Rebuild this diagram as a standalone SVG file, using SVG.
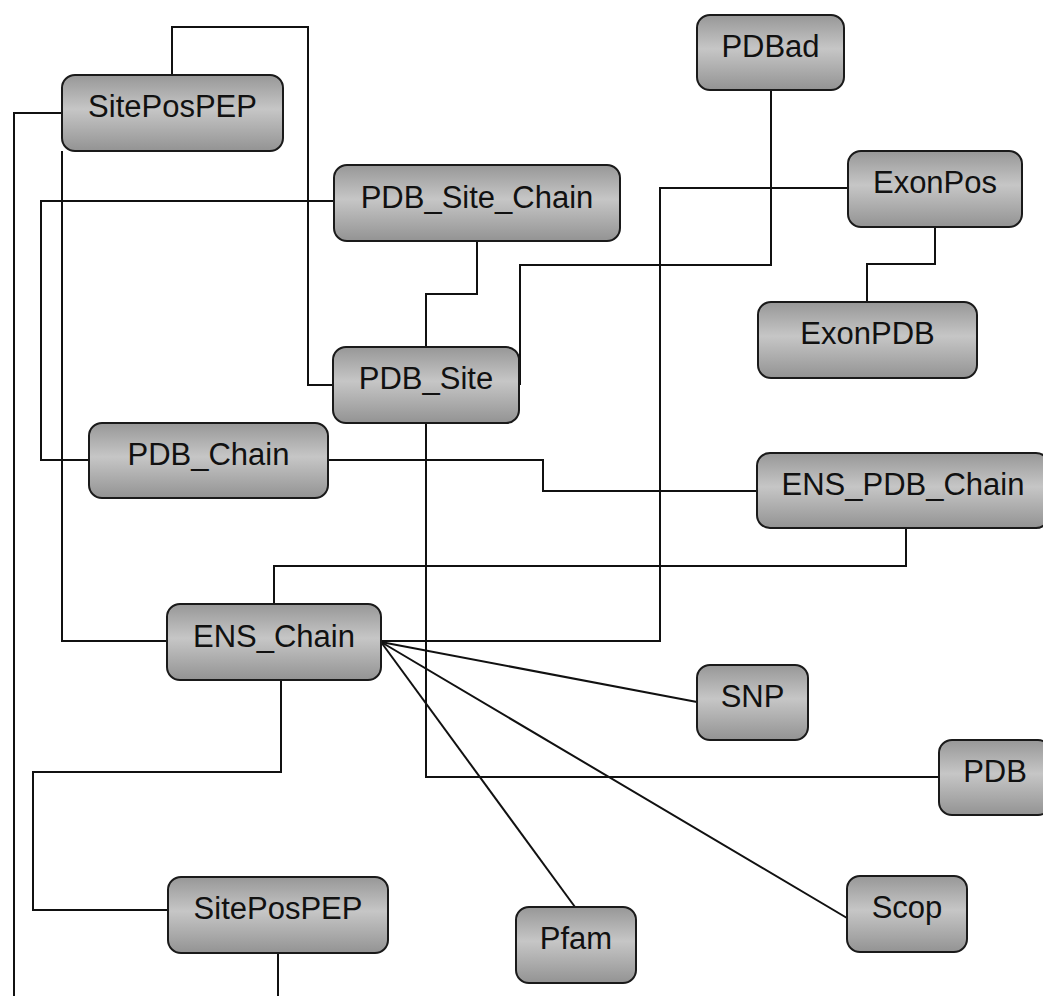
<svg xmlns="http://www.w3.org/2000/svg" width="1043" height="996" viewBox="0 0 1043 996">
<defs>
<linearGradient id="g" x1="0" y1="0" x2="0" y2="1">
<stop offset="0" stop-color="#979797"/>
<stop offset="0.45" stop-color="#c6c6c6"/>
<stop offset="1" stop-color="#939393"/>
</linearGradient>
<style>
.n rect{fill:url(#g);stroke:#1a1a1a;stroke-width:2}
.n text{font-family:"Liberation Sans",Arial,sans-serif;font-size:31px;fill:#111;text-anchor:middle}
#connectors path{fill:none;stroke:#111;stroke-width:2}
</style>
</defs>
<rect width="1043" height="996" fill="#fff"/>
<g id="connectors">
<path d="M172,75 V27 H308 V385 H333"/>
<path d="M62,113 H14 V996"/>
<path d="M62,151 V641 H167"/>
<path d="M334,201 H41 V460 H89"/>
<path d="M477,241 V294 H426 V347"/>
<path d="M426,423 V777 H939"/>
<path d="M520,385 V265 H771 V90"/>
<path d="M848,188 H660 V641 H381"/>
<path d="M935,227 V264 H867 V302"/>
<path d="M328,460 H543 V491 H757"/>
<path d="M906,528 V566 H274 V604"/>
<path d="M281,680 V772 H33 V910 H168"/>
<path d="M278,953 V996"/>
<path d="M381,642 L697,702"/>
<path d="M381,642 L575,907"/>
<path d="M381,642 L847,918"/>
</g>
<g id="SitePosPEP_top" class="n"><rect x="62" y="75" width="221" height="76" rx="13"/><text x="172.5" y="117">SitePosPEP</text></g>
<g id="PDB_Site_Chain" class="n"><rect x="334" y="165" width="286" height="76" rx="13"/><text x="477" y="208">PDB_Site_Chain</text></g>
<g id="PDBad" class="n"><rect x="697" y="15" width="147" height="75" rx="13"/><text x="770.5" y="57">PDBad</text></g>
<g id="ExonPos" class="n"><rect x="848" y="151" width="174" height="76" rx="13"/><text x="935" y="193">ExonPos</text></g>
<g id="ExonPDB" class="n"><rect x="758" y="302" width="219" height="76" rx="13"/><text x="867.5" y="344">ExonPDB</text></g>
<g id="PDB_Site" class="n"><rect x="333" y="347" width="186" height="76" rx="13"/><text x="426" y="389">PDB_Site</text></g>
<g id="PDB_Chain" class="n"><rect x="89" y="423" width="239" height="75" rx="13"/><text x="208.5" y="465">PDB_Chain</text></g>
<g id="ENS_PDB_Chain" class="n"><rect x="757" y="453" width="292" height="75" rx="13"/><text x="903" y="495">ENS_PDB_Chain</text></g>
<g id="ENS_Chain" class="n"><rect x="167" y="604" width="214" height="76" rx="13"/><text x="274" y="647">ENS_Chain</text></g>
<g id="SNP" class="n"><rect x="697" y="665" width="111" height="75" rx="13"/><text x="752.5" y="707">SNP</text></g>
<g id="PDB" class="n"><rect x="939" y="740" width="112" height="75" rx="13"/><text x="995" y="782">PDB</text></g>
<g id="SitePosPEP_bottom" class="n"><rect x="168" y="877" width="220" height="76" rx="13"/><text x="278" y="919">SitePosPEP</text></g>
<g id="Pfam" class="n"><rect x="516" y="907" width="120" height="76" rx="13"/><text x="576" y="949">Pfam</text></g>
<g id="Scop" class="n"><rect x="847" y="876" width="120" height="76" rx="13"/><text x="907" y="918">Scop</text></g>
</svg>
